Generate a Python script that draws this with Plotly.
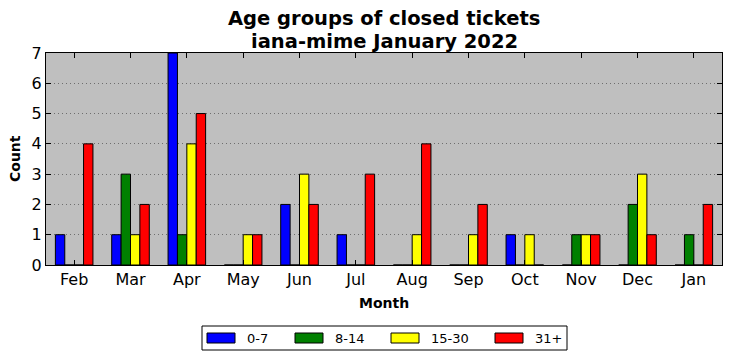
import plotly.graph_objects as go

months = ["Feb", "Mar", "Apr", "May", "Jun", "Jul", "Aug", "Sep", "Oct", "Nov", "Dec", "Jan"]
age_0_7 = [1, 1, 7, 0, 2, 1, 0, 0, 1, 0, 0, 0]
age_8_14 = [0, 3, 1, 0, 0, 0, 0, 0, 0, 1, 2, 1]
age_15_30 = [0, 1, 4, 1, 3, 0, 1, 1, 1, 1, 3, 0]
age_31_plus = [4, 2, 5, 1, 2, 3, 4, 2, 0, 1, 1, 2]
series_names = ["0-7", "8-14", "15-30", "31+"]
series_colors = ["#0000ff", "#008000", "#ffff00", "#ff0000"]
yticks = [0, 1, 2, 3, 4, 5, 6, 7]

W, H = 732, 361
L, R, T, B = 46, 10, 53, 96
PW, PH = W - L - R, H - T - B


def px_x(x):
    return (x - L) / PW


def px_y(y):
    return (H - B - y) / PH


fig = go.Figure()
for name, vals, col in zip(series_names, [age_0_7, age_8_14, age_15_30, age_31_plus], series_colors):
    fig.add_trace(go.Bar(
        x=months, y=vals, name=name,
        marker=dict(color=col, line=dict(color="black", width=1)),
    ))

font_family = "DejaVu Sans"

# legend drawn as a framed row of swatches + labels below the plot
shapes = [dict(type="rect", xref="paper", yref="paper",
               x0=px_x(202), x1=px_x(567), y0=px_y(326), y1=px_y(350),
               line=dict(color="black", width=1), fillcolor="white", layer="above")]
annotations = []
sw_left = [207, 295, 391, 495]
txt_left = [245, 333, 429, 533]
for name, col, sx, tx in zip(series_names, series_colors, sw_left, txt_left):
    shapes.append(dict(type="rect", xref="paper", yref="paper",
                       x0=px_x(sx), x1=px_x(sx + 28), y0=px_y(333), y1=px_y(343),
                       line=dict(color="black", width=1), fillcolor=col, layer="above"))
    annotations.append(dict(text=name, x=px_x(tx), xref="paper", xanchor="left",
                            y=px_y(338), yref="paper", yanchor="middle",
                            showarrow=False, font=dict(size=13, family=font_family)))

annotations += [
    dict(text="<b>Age groups of closed tickets</b>", x=0.5, xref="paper",
         y=px_y(19), yref="paper", yanchor="middle",
         showarrow=False, font=dict(size=19.5, family=font_family)),
    dict(text="<b>iana-mime January 2022</b>", x=0.5, xref="paper",
         y=px_y(41), yref="paper", yanchor="middle",
         showarrow=False, font=dict(size=19.5, family=font_family)),
    dict(text="<b>Month</b>", x=0.5, xref="paper", y=px_y(303), yref="paper",
         yanchor="middle", showarrow=False, font=dict(size=14, family=font_family)),
    dict(text="<b>Count</b>", x=px_x(15), xref="paper", y=0.5, yref="paper",
         xanchor="center", yanchor="middle", textangle=-90, showarrow=False,
         font=dict(size=14, family=font_family)),
]

fig.update_layout(
    width=W, height=H,
    margin=dict(l=L, r=R, t=T, b=B, autoexpand=False),
    paper_bgcolor="white",
    plot_bgcolor="#bfbfbf",
    barmode="group",
    bargap=0.333,
    bargroupgap=0,
    font=dict(family=font_family, color="black", size=15),
    showlegend=False,
    xaxis=dict(
        range=[-0.5, 11.5],
        showgrid=False,
        ticks="inside", ticklen=5, tickcolor="black",
        showline=True, linecolor="black", linewidth=1, mirror="ticks",
        tickfont=dict(size=16),
        zeroline=False, automargin=False,
    ),
    yaxis=dict(
        range=[0, 7],
        tickvals=yticks,
        showgrid=True, gridcolor="#6e6e6e", griddash="1px,3px", gridwidth=1,
        ticks="inside", ticklen=5, tickcolor="black",
        showline=True, linecolor="black", linewidth=1, mirror="ticks",
        tickfont=dict(size=16),
        zeroline=False, automargin=False,
    ),
    shapes=shapes,
    annotations=annotations,
)

fig.write_html("out.html", config={"displayModeBar": False},
               post_script="document.body.style.margin='0';")
